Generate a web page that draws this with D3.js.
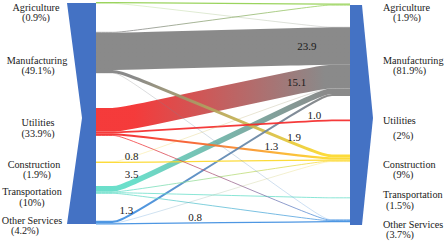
<!DOCTYPE html>
<html><head><meta charset="utf-8">
<script src="https://cdn.jsdelivr.net/npm/d3@7"></script>
<style>
body{margin:0;background:#fff}
svg{display:block}
</style></head>
<body><svg id="chart" width="445" height="242"></svg>
<script>
const sectors = ["Agriculture", "Manufacturing", "Utilities", "Construction", "Transportation", "Other Services"]
const sharesFrom = ["(0.9%)", "(49.1%)", "(33.9%)", "(1.9%)", "(10%)", "(4.2%)"]
const sharesTo = ["(1.9%)", "(81.9%)", "(2%)", "(9%)", "(1.5%)", "(3.7%)"]
const sectorColors = ["#92d050", "#808080", "#f42a2a", "#fcd82a", "#5fdcc6", "#3f8ee0"]

// [from, to, value]
const flows = [
  [0, 0, 0.8], [0, 1, 0.2],
  [1, 0, 0.4], [1, 1, 23.9], [1, 3, 1.9], [1, 5, 0.2],
  [2, 1, 15.1], [2, 2, 1.0], [2, 3, 1.3], [2, 5, 0.4],
  [3, 1, 0.2], [3, 3, 0.8],
  [4, 1, 3.5], [4, 3, 0.5], [4, 4, 0.5], [4, 5, 0.4],
  [5, 1, 1.3], [5, 3, 0.2], [5, 5, 0.8]
]
// which flows carry a number, and how far along the link it sits
const labelled = [[3, 0.83], [6, 0.79], [7, 0.86], [4, 0.78], [8, 0.69], [11, 0.14], [12, 0.14], [16, 0.12], [18, 0.39]]

// node starts in value units (left column, right column)
const startFrom = [0, 19.2, 67.8, 102.0, 117.7, 140.0]
const startTo = [1.0, 16.0, 75.2, 97.5, 125.0, 139.1]

const serif = '"Liberation Serif", "Times New Roman", serif'
const svg = d3.select('#chart')
const xL = 96, xR = 350
const y = d3.scaleLinear().domain([0, 142]).range([2, 224])
const k = y(1) - y(0)

// Blue column shapes
const yTop = y.range()[0], yBot = y.range()[1]
svg.append('polygon')
  .attr('points', [[67, yTop + 1], [xL, yTop + 1], [xL, yBot], [67, yBot], [82, 118]].join(' '))
  .attr('fill', '#4472c4')
svg.append('polygon')
  .attr('points', [[xR, yTop + 3], [362, yTop + 3], [373, 118], [362, yBot + 1], [xR, yBot + 1]].join(' '))
  .attr('fill', '#4472c4')

// Stack flows inside each node
const offFrom = startFrom.slice(), offTo = startTo.slice()
const links = flows.map(([s, t, v], i) => ({ s, t, v, i }))
links.forEach(l => { l.y0 = y(offFrom[l.s] + l.v / 2); offFrom[l.s] += l.v })
d3.range(6).forEach(t => {
  links.filter(l => l.t === t).forEach(l => { l.y1 = y(offTo[t] + l.v / 2); offTo[t] += l.v })
})

const defs = svg.append('defs')
links.forEach(l => {
  const g = defs.append('linearGradient')
    .attr('id', `grad${l.i}`)
    .attr('gradientUnits', 'userSpaceOnUse')
    .attr('x1', xL).attr('x2', xR)
  g.append('stop').attr('offset', '15%').attr('stop-color', sectorColors[l.s])
  g.append('stop').attr('offset', '90%').attr('stop-color', sectorColors[l.t])
})

const line = d3.line().curve(d3.curveBasis)
const linkPath = l => line([[xL, l.y0], [xL + 18, l.y0], [xL + 26, l.y0], [xR - 28, l.y1], [xR - 20, l.y1], [xR, l.y1]])

// big bands under thin lines
const order = links.slice().sort((a, b) => b.v - a.v)
const paths = svg.append('g').attr('fill', 'none')
  .selectAll('path').data(order).join('path')
  .attr('d', linkPath)
  .attr('stroke', l => `url(#grad${l.i})`)
  .attr('stroke-width', l => Math.max(l.v * k, 0.8))
  .attr('stroke-opacity', l => l.v < 0.3 ? 0.35 : 0.92)

const yAt = (node, x) => {
  const L = node.getTotalLength()
  let lo = 0, hi = L
  for (let n = 0; n < 30; n++) {
    const mid = (lo + hi) / 2
    if (node.getPointAtLength(mid).x < x) lo = mid; else hi = mid
  }
  return node.getPointAtLength(lo).y
}

const nodeByIndex = {}
paths.each(function (l) { nodeByIndex[l.i] = this })

svg.append('g').style('font-family', serif).attr('font-size', 11).attr('fill', '#1a1a1a').attr('text-anchor', 'middle')
  .selectAll('text').data(labelled).join('text')
  .each(function ([i, t]) {
    const l = links[i]
    const x = xL + t * (xR - xL)
    const yc = yAt(nodeByIndex[i], x)
    const w = l.v * k
    d3.select(this).attr('x', x).attr('y', w > 10 ? yc + 4 : yc - w / 2 - 1.5)
  })
  .text(([i]) => links[i].v.toFixed(1))

// Sector labels
const nameYFrom = [11, 64, 126, 168, 195, 224]
const pctYFrom = [21, 74, 137, 178, 206, 234]
const nameXFrom = [36, 37, 38, 34, 32, 32]
const pctXFrom = [36, 38, 38, 37, 32, 25]
const nameYTo = [11, 64, 124, 168, 198, 228]
const pctYTo = [21, 74, 139, 178, 209, 238]
const pctXTo = [393, 393, 393, 393, 386, 386]

const lab = svg.append('g').style('font-family', serif).attr('font-size', 10.2).attr('fill', '#1a1a1a')
lab.selectAll('.nameL').data(sectors).join('text').attr('class', 'nameL')
  .attr('text-anchor', 'middle').attr('x', (d, i) => nameXFrom[i]).attr('y', (d, i) => nameYFrom[i]).text(d => d)
lab.selectAll('.pctL').data(sharesFrom).join('text').attr('class', 'pctL')
  .attr('text-anchor', 'middle').attr('x', (d, i) => pctXFrom[i]).attr('y', (d, i) => pctYFrom[i]).text(d => d)
lab.selectAll('.nameR').data(sectors).join('text').attr('class', 'nameR')
  .attr('x', 383).attr('y', (d, i) => nameYTo[i]).text(d => d)
lab.selectAll('.pctR').data(sharesTo).join('text').attr('class', 'pctR')
  .attr('x', (d, i) => pctXTo[i]).attr('y', (d, i) => pctYTo[i]).text(d => d)
</script>
</body></html>
